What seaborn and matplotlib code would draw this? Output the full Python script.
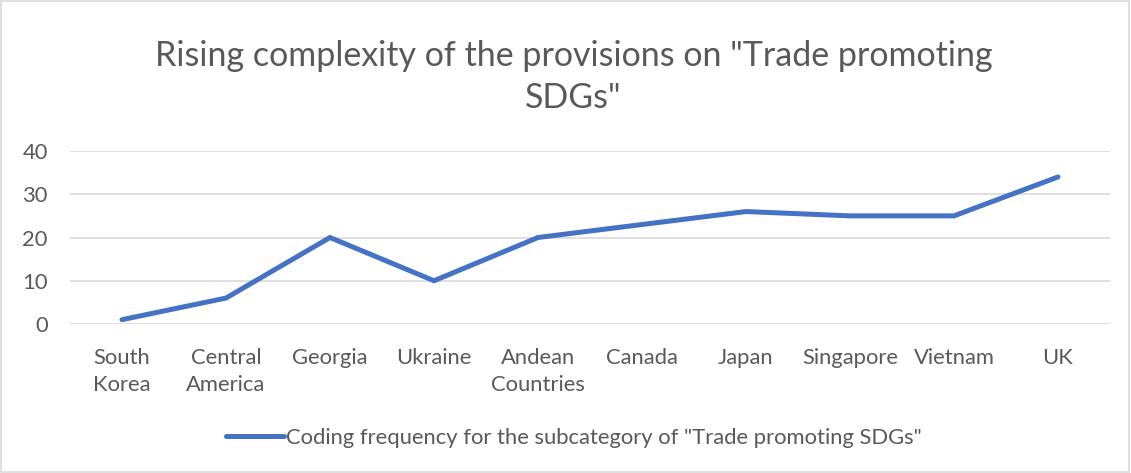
import matplotlib
matplotlib.use("Agg")
import pandas as pd
import matplotlib.pyplot as plt
import matplotlib.patches as patches
import seaborn as sns

countries = ["South\nKorea", "Central\nAmerica", "Georgia", "Ukraine", "Andean\nCountries",
             "Canada", "Japan", "Singapore", "Vietnam", "UK"]
frequency = [1, 6, 20, 10, 20, 23, 26, 25, 25, 34]
series_name = 'Coding frequency for the subcategory of "Trade promoting SDGs"'
title = 'Rising complexity of the provisions on "Trade promoting\nSDGs"'
y_ticks = [0, 10, 20, 30, 40]

sns.set_style("white")
plt.rcParams['font.family'] = ['Lato', 'DejaVu Sans']

df = pd.DataFrame({"country": countries, "freq": frequency})

fig = plt.figure(figsize=(11.31, 4.73), dpi=100)
ax = fig.add_axes([70 / 1131, 1 - 324 / 473, 1040 / 1131, 173 / 473])

sns.lineplot(data=df, x="country", y="freq", ax=ax, color="#4472C4", linewidth=3.6,
             label=series_name, legend=False, solid_capstyle="round", solid_joinstyle="miter")

ax.set_xlim(-0.5, len(countries) - 0.5)
ax.set_ylim(0, 40)
ax.set_yticks(y_ticks)
ax.grid(axis="y", color="#d9d9d9", linewidth=1.2)
ax.grid(axis="x", visible=False)
ax.set_axisbelow(True)
for s in ax.spines.values():
    s.set_visible(False)
ax.set_xlabel("")
ax.set_ylabel("")
ax.tick_params(axis="x", length=0, pad=17, labelsize=15.8, labelcolor="#595959")
ax.tick_params(axis="y", length=0, pad=16, labelsize=15.8, labelcolor="#595959")
for lbl in ax.get_xticklabels():
    lbl.set_linespacing(1.45)

fig.text(0.507, 1 - 77 / 473, title, ha="center", va="center", fontsize=24.5,
         color="#595959", linespacing=1.38)

handles, labels = ax.get_legend_handles_labels()
fig.legend(handles, labels, loc="center", bbox_to_anchor=(574 / 1131, 1 - 438 / 473),
           frameon=False, fontsize=15.8, handlelength=2.6, handletextpad=0.1,
           labelcolor="#595959")

fig.patches.append(patches.Rectangle((0.001, 0.002), 0.997, 0.995, transform=fig.transFigure,
                                     fill=False, edgecolor="#d9d9d9", linewidth=1.2))

fig.savefig("out.png", dpi=100)
